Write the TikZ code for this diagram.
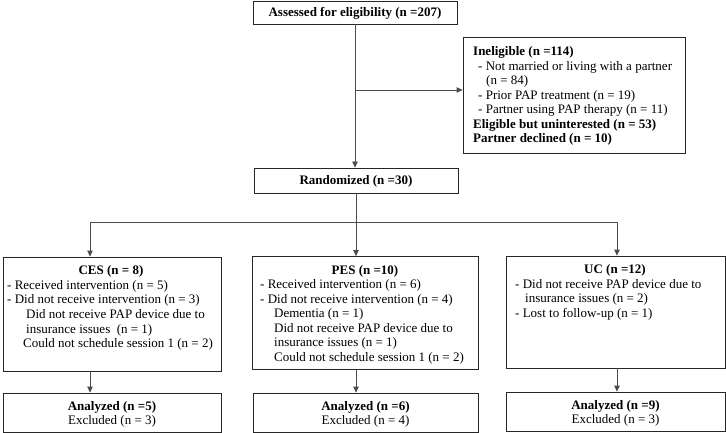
\documentclass[tikz,border=0pt]{standalone}
\usepackage{fontspec}
\setmainfont{Liberation Serif}
\usetikzlibrary{arrows.meta}
\tikzset{
  box/.style={draw=black!85, line width=0.8pt, inner sep=0pt},
  ln/.style={draw=black!70, line width=0.8pt},
  arr/.style={ln, -{Triangle[length=6pt,width=5.5pt]}},
  tl/.style={anchor=base west, inner sep=0pt, font=\fontsize{13}{15}\selectfont},
  tc/.style={anchor=base, inner sep=0pt, font=\fontsize{13}{15}\selectfont\bfseries},
  tn/.style={anchor=base, inner sep=0pt, font=\fontsize{13}{15}\selectfont},
  tb/.style={anchor=base west, inner sep=0pt, font=\fontsize{13}{15}\selectfont\bfseries},
}
\begin{document}
\begin{tikzpicture}[x=1pt,y=-1pt]
\useasboundingbox (0,0) rectangle (726,433);
% boxes
\node[box, minimum width=204pt, minimum height=23pt] (assess) at (355,12.5) {};
\node[box, minimum width=222pt, minimum height=116pt] (inel) at (574,95) {};
\node[box, minimum width=204pt, minimum height=25pt] (rand) at (356,180.5) {};
\node[box, minimum width=218pt, minimum height=114pt] (ces) at (112,314) {};
\node[box, minimum width=226pt, minimum height=113pt] (pes) at (365,313) {};
\node[box, minimum width=219pt, minimum height=112pt] (uc) at (615.5,312) {};
\node[box, minimum width=218pt, minimum height=39pt] (a1) at (112,412.5) {};
\node[box, minimum width=225pt, minimum height=39pt] (a2) at (365.5,412.5) {};
\node[box, minimum width=219pt, minimum height=39pt] (a3) at (615.5,411.5) {};
% texts
\node[tc] (t1) at (355,17) {Assessed for eligibility (n =207)};
\node[tb] (i1) at (473,56) {Ineligible (n =114)};
\node[tl] (i2) at (478,70.5) {- Not married or living with a partner};
\node[tl] (i3) at (486,85) {(n = 84)};
\node[tl] (i4) at (478,99.5) {- Prior PAP treatment (n = 19)};
\node[tl] (i5) at (478,114) {- Partner using PAP therapy (n = 11)};
\node[tb] (i6) at (473,128.5) {Eligible but uninterested (n = 53)};
\node[tb] (i7) at (473,143) {Partner declined (n = 10)};
\node[tc] (t2) at (356,185) {Randomized (n =30)};
% CES
\node[tc] (c0) at (111,274.5) {CES (n = 8)};
\node[tl] (c1) at (7,289) {- Received intervention (n = 5)};
\node[tl] (c2) at (7,303.7) {- Did not receive intervention (n = 3)};
\node[tl] (c3) at (26,318.4) {Did not receive PAP device due to};
\node[tl] (c4) at (26,333.1) {insurance issues\ \ (n = 1)};
\node[tl] (c5) at (23,347.8) {Could not schedule session 1 (n = 2)};
% PES
\node[tc] (p0) at (365,274) {PES (n =10)};
\node[tl] (p1) at (260,288.5) {- Received intervention (n = 6)};
\node[tl] (p2) at (260,303) {- Did not receive intervention (n = 4)};
\node[tl] (p3) at (274,317.5) {Dementia (n = 1)};
\node[tl] (p4) at (274,332) {Did not receive PAP device due to};
\node[tl] (p5) at (274,346.5) {insurance issues (n = 1)};
\node[tl] (p6) at (274,361) {Could not schedule session 1 (n = 2)};
% UC
\node[tc] (u0) at (615,273.5) {UC (n =12)};
\node[tl] (u1) at (515,288) {- Did not receive PAP device due to};
\node[tl] (u2) at (525,302.5) {insurance issues (n = 2)};
\node[tl] (u3) at (515,317) {- Lost to follow-up (n = 1)};
% analyzed
\node[tc] (a1t) at (112,410) {Analyzed (n =5)};
\node[tn] (a1e) at (112,424.5) {Excluded (n = 3)};
\node[tc] (a2t) at (365.5,410) {Analyzed (n =6)};
\node[tn] (a2e) at (365.5,424.5) {Excluded (n = 4)};
\node[tc] (a3t) at (615.5,409) {Analyzed (n =9)};
\node[tn] (a3e) at (615.5,423.5) {Excluded (n = 3)};
% connectors
\coordinate (j1) at (355,90);
\coordinate (j2) at (356,222);
\coordinate (jL) at (90,222);
\coordinate (jR) at (617,222);
\draw[arr] (assess.south) -- (assess.south |- rand.north);
\draw[arr] (j1) -- (j1 -| inel.west);
\draw[ln] (rand.south) -- (j2);
\draw[ln] (jL) -- (jR);
\draw[arr] (jL) -- (jL |- ces.north);
\draw[arr] (j2) -- (j2 |- pes.north);
\draw[arr] (jR) -- (jR |- uc.north);
\draw[arr] (jL |- ces.south) -- (jL |- a1.north);
\draw[arr] (j2 |- pes.south) -- (j2 |- a2.north);
\draw[arr] (jR |- uc.south) -- (jR |- a3.north);
\end{tikzpicture}
\end{document}
